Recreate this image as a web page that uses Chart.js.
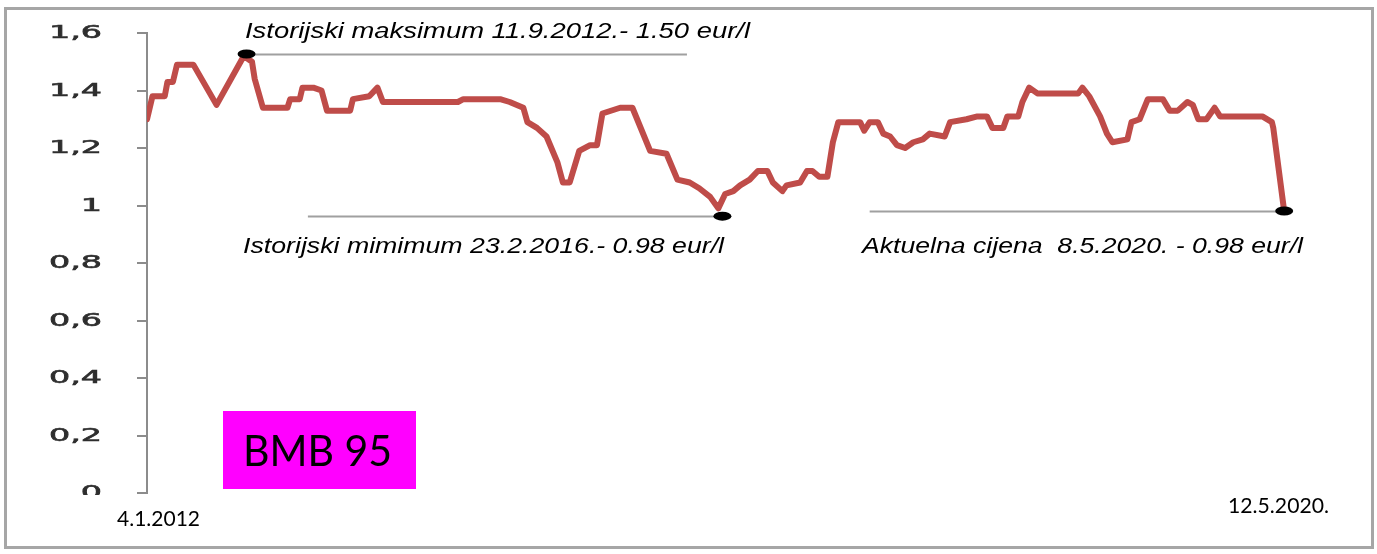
<!DOCTYPE html>
<html>
<head>
<meta charset="utf-8">
<title>BMB 95</title>
<script src="https://cdn.jsdelivr.net/npm/chart.js@4.4.1/dist/chart.umd.min.js"></script>
<style>
  html, body { margin: 0; padding: 0; background: #fff; }
  canvas { display: block; }
</style>
</head>
<body>
<canvas id="chart" width="1377" height="554"></canvas>
<script>
// price of BMB 95 in eur/l, x as decimal year
const years = [
  2012.01, 2012.05, 2012.14, 2012.16, 2012.20, 2012.23, 2012.35, 2012.52, 2012.72, 2012.78,
  2012.80, 2012.86, 2013.04, 2013.06, 2013.13, 2013.15, 2013.23, 2013.29, 2013.33, 2013.50,
  2013.52, 2013.64, 2013.70, 2013.74, 2014.29, 2014.33, 2014.60, 2014.67, 2014.77, 2014.80,
  2014.87, 2014.94, 2015.02, 2015.06, 2015.11, 2015.18, 2015.26, 2015.31, 2015.35, 2015.48,
  2015.57, 2015.70, 2015.82, 2015.90, 2015.99, 2016.06, 2016.14, 2016.20, 2016.25, 2016.31,
  2016.36, 2016.43, 2016.49, 2016.56, 2016.60, 2016.67, 2016.70, 2016.80, 2016.85, 2016.89,
  2016.94, 2017.00, 2017.04, 2017.08, 2017.24, 2017.27, 2017.31, 2017.37, 2017.41, 2017.46,
  2017.51, 2017.57, 2017.63, 2017.70, 2017.75, 2017.86, 2017.90, 2018.02, 2018.10, 2018.17,
  2018.21, 2018.29, 2018.32, 2018.40, 2018.43, 2018.48, 2018.54, 2018.84, 2018.87, 2018.92,
  2019.00, 2019.05, 2019.09, 2019.20, 2019.23, 2019.29, 2019.35, 2019.46, 2019.51, 2019.57,
  2019.64, 2019.68, 2019.72, 2019.78, 2019.84, 2019.88, 2020.19, 2020.26, 2020.27, 2020.35
];
const prices = [
  1.30, 1.38, 1.38, 1.43, 1.43, 1.49, 1.49, 1.35, 1.52, 1.50,
  1.44, 1.34, 1.34, 1.37, 1.37, 1.41, 1.41, 1.40, 1.33, 1.33,
  1.37, 1.38, 1.41, 1.36, 1.36, 1.37, 1.37, 1.36, 1.34, 1.29,
  1.27, 1.24, 1.15, 1.08, 1.08, 1.19, 1.21, 1.21, 1.32, 1.34,
  1.34, 1.19, 1.18, 1.09, 1.08, 1.06, 1.03, 0.99, 1.04, 1.05,
  1.07, 1.09, 1.12, 1.12, 1.08, 1.05, 1.07, 1.08, 1.12, 1.12,
  1.10, 1.10, 1.22, 1.29, 1.29, 1.26, 1.29, 1.29, 1.25, 1.24,
  1.21, 1.20, 1.22, 1.23, 1.25, 1.24, 1.29, 1.30, 1.31, 1.31,
  1.27, 1.27, 1.31, 1.31, 1.36, 1.41, 1.39, 1.39, 1.41, 1.38,
  1.31, 1.25, 1.22, 1.23, 1.29, 1.30, 1.37, 1.37, 1.33, 1.33,
  1.36, 1.35, 1.30, 1.30, 1.34, 1.31, 1.31, 1.29, 1.27, 0.98
];
const yTicks = [0, 0.2, 0.4, 0.6, 0.8, 1, 1.2, 1.4, 1.6];
const startLabel = '4.1.2012';
const endLabel = '12.5.2020.';
const seriesName = 'BMB 95';

// marked points: [year, price] and where the grey guide line runs (years)
const maxNote = { text: 'Istorijski maksimum 11.9.2012.- 1.50 eur/l', at: [2012.74, 1.527], from: 2012.74, to: 2015.97 };
const minNote = { text: 'Istorijski mimimum 23.2.2016.- 0.98 eur/l', at: [2016.23, 0.963], from: 2013.19, to: 2016.23 };
const lastNote = { text: 'Aktuelna cijena  8.5.2020. - 0.98 eur/l', at: [2020.35, 0.981], from: 2017.31, to: 2020.35 };

const lineColor = '#bf4c49';

function fitText(ctx, text, x, y, width, font, color) {
  ctx.save();
  ctx.font = font;
  ctx.fillStyle = color;
  ctx.textBaseline = 'alphabetic';
  ctx.textAlign = 'left';
  const w = ctx.measureText(text).width;
  ctx.translate(x, y);
  ctx.scale(width / w, 1);
  ctx.fillText(text, 0, 0);
  ctx.restore();
}

const decorPlugin = {
  id: 'decor',
  beforeDraw(chart) {
    const ctx = chart.ctx;
    ctx.save();
    ctx.fillStyle = '#fff';
    ctx.fillRect(0, 0, chart.width, chart.height);
    ctx.strokeStyle = '#a6a6a6';
    ctx.lineWidth = 3;
    ctx.strokeRect(5.5, 8.5, 1367, 539);
    ctx.restore();
  },
  beforeDatasetsDraw(chart) {
    const ctx = chart.ctx;
    const xs = chart.scales.x, ys = chart.scales.y;
    ctx.save();
    ctx.strokeStyle = '#a0a0a0';
    ctx.lineWidth = 2;
    [maxNote, minNote, lastNote].forEach(n => {
      const py = Math.round(ys.getPixelForValue(n.at[1])) + 0.5;
      ctx.beginPath();
      ctx.moveTo(xs.getPixelForValue(n.from), py);
      ctx.lineTo(xs.getPixelForValue(n.to), py);
      ctx.stroke();
    });
    ctx.restore();
  },
  afterDatasetsDraw(chart) {
    const ctx = chart.ctx;
    const xs = chart.scales.x, ys = chart.scales.y;

    // black markers
    ctx.save();
    ctx.fillStyle = '#000';
    [maxNote, minNote, lastNote].forEach(n => {
      ctx.beginPath();
      ctx.ellipse(xs.getPixelForValue(n.at[0]), ys.getPixelForValue(n.at[1]), 9, 4.5, 0, 0, Math.PI * 2);
      ctx.fill();
    });
    ctx.restore();

    // y tick labels (stretched like the pasted picture)
    ctx.save();
    ctx.beginPath();
    ctx.rect(0, 0, 146, 495);
    ctx.clip();
    ctx.font = '17px "DejaVu Sans"';
    const sx = 53 / ctx.measureText('1,6').width;
    ctx.fillStyle = '#2e2e2e';
    ctx.strokeStyle = '#2e2e2e';
    ctx.lineWidth = 0.6;
    ctx.textAlign = 'right';
    ctx.textBaseline = 'middle';
    yTicks.forEach(v => {
      const label = String(Math.round(v * 10) / 10).replace('.', ',');
      ctx.save();
      ctx.translate(102, ys.getPixelForValue(v) + 1);
      ctx.scale(sx, 1);
      ctx.fillText(label, 0, 0);
      ctx.strokeText(label, 0, 0);
      ctx.restore();
    });
    ctx.restore();

    // annotations
    const italic = 'italic 22px "Liberation Sans", Arial, sans-serif';
    fitText(ctx, maxNote.text, 245, 38, 505, italic, '#000');
    fitText(ctx, minNote.text, 243, 253, 481, italic, '#000');
    fitText(ctx, lastNote.text, 862, 253, 441, italic, '#000');

    // series box
    ctx.save();
    ctx.fillStyle = '#ff00ff';
    ctx.fillRect(223, 411, 193, 78);
    ctx.restore();
    fitText(ctx, seriesName, 243, 466, 149, '42px Lato, "Open Sans", sans-serif', '#000');

    // start / end dates
    fitText(ctx, startLabel, 117, 526, 83, '21px Lato, "Open Sans", sans-serif', '#000');
    fitText(ctx, endLabel, 1228, 513, 101, '21px Lato, "Open Sans", sans-serif', '#000');
  }
};

new Chart(document.getElementById('chart'), {
  type: 'line',
  data: {
    datasets: [{
      label: seriesName,
      data: years.map((y, i) => ({ x: y, y: prices[i] })),
      borderColor: lineColor,
      borderWidth: 6,
      borderJoinStyle: 'round',
      borderCapStyle: 'round',
      pointRadius: 0,
      tension: 0,
      fill: false
    }]
  },
  options: {
    responsive: false,
    animation: false,
    events: [],
    layout: { padding: { top: 33, right: 86, bottom: 61, left: 0 } },
    plugins: {
      legend: { display: false },
      tooltip: { enabled: false }
    },
    scales: {
      x: {
        type: 'linear',
        min: 2012.01,
        max: 2020.40,
        display: false
      },
      y: {
        min: 0,
        max: 1.6,
        afterFit(scale) { scale.width = 147; },
        afterBuildTicks(scale) { scale.ticks = yTicks.map(v => ({ value: v })); },
        ticks: { color: 'transparent', font: { size: 16 } },
        grid: { drawOnChartArea: false, drawTicks: true, tickLength: 10, color: '#8c8c8c', lineWidth: 2 },
        border: { display: true, color: '#8c8c8c', width: 2 }
      }
    }
  },
  plugins: [decorPlugin]
});
</script>
</body>
</html>
